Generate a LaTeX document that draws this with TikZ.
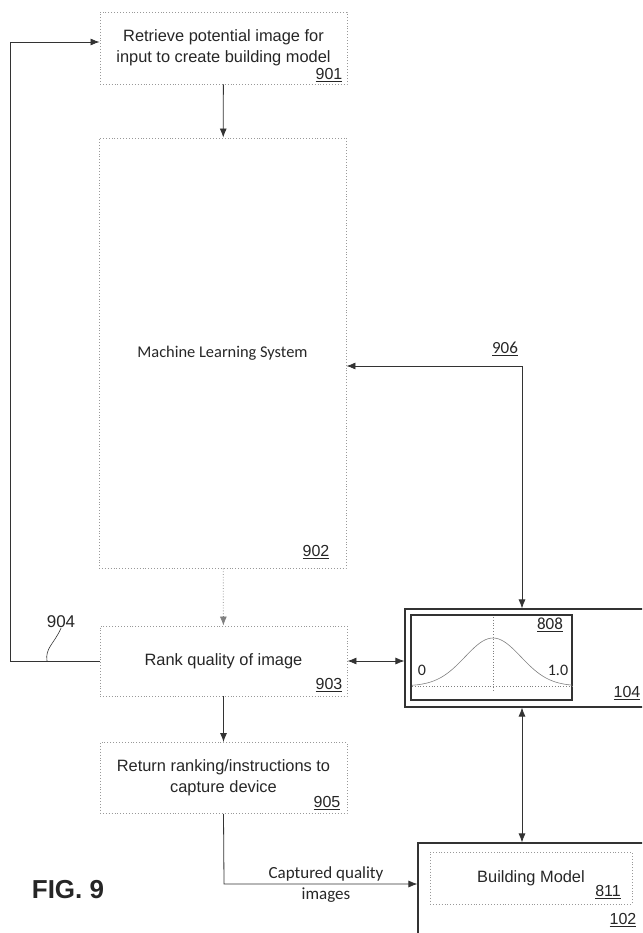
\documentclass[tikz,border=0pt]{standalone}
\usepackage{fontspec}
\setmainfont{Liberation Sans}
\newfontfamily\calfont{Carlito}
\usetikzlibrary{arrows.meta}
\tikzset{
  flowbox/.style={draw=gray!80, dotted, line width=0.9pt, minimum width=247pt, align=center, inner sep=0pt, text=black!85,
    font=\fontsize{16.4}{21}\selectfont},
  solidbox/.style={draw=black!80, line width=1.1pt, inner sep=0pt},
  num/.style={inner sep=0pt, text=black!85, font=\fontsize{16}{18}\selectfont},
  link/.style={draw=black!80, line width=0.8pt, -{Latex[length=9pt,width=7pt]}},
  dbl/.style={draw=black!80, line width=0.8pt, {Latex[length=9pt,width=7pt]}-{Latex[length=9pt,width=7pt]}},
}
\begin{document}
\begin{tikzpicture}[x=1pt,y=-1pt]
  \clip (0,0) rectangle (642,933);
  % Left column
  \node[flowbox, minimum height=72pt] (retrieve) at (223.5,48) {Retrieve potential image for\\input to create building model};
  \node[flowbox, minimum height=430pt, font=\calfont\fontsize{16.4}{20}\selectfont] (ml) at (222.5,353) {Machine Learning System};
  \node[flowbox, minimum height=70pt] (rank) at (223.5,661) {Rank quality of image};
  \node[flowbox, minimum height=71pt] (report) at (223.5,778) {Return ranking/instructions to\\capture device};
  \node[num] (n901) at (329,75) {\underline{901}};
  \node[num] (n902) at (316,552) {\underline{902}};
  \node[num] (n903) at (329,685) {\underline{903}};
  \node[num] (n905) at (327,803) {\underline{905}};
  % Right column
  \node[solidbox, minimum width=255pt, minimum height=98pt] (device) at (532.5,658) {};
  \node[solidbox, minimum width=161pt, minimum height=85pt] (chart) at (491.5,657.5) {};
  \node[num] (n104) at (627,693) {\underline{104}};
  \node[num, font=\calfont\fontsize{17}{18}\selectfont] (n808) at (550,625) {\underline{808}};
  \node[num, font=\calfont\fontsize{16}{18}\selectfont] (low) at (422,670) {0};
  \node[num, font=\calfont\fontsize{16}{18}\selectfont] (high) at (558,670) {1.0};
  \draw[gray, dotted, line width=0.8pt] (412,686) -- (572,686);
  \draw[gray, dotted, line width=0.8pt] (493,617) -- (493,692);
  \draw[gray, line width=0.6pt] plot[domain=412:572, samples=60] (\x, {686-48*exp(-0.5*((\x-493)/28)*((\x-493)/28))});
  \node[solidbox, minimum width=282pt, minimum height=117pt] (server) at (559,901.5) {};
  \node[flowbox, minimum width=202pt, minimum height=52pt] (model) at (531,878) {Building Model};
  \node[num] (n811) at (608,892) {\underline{811}};
  \node[num] (n102) at (623,920) {\underline{102}};
  \node[num, font=\calfont\fontsize{17}{18}\selectfont] (n906) at (505,349) {\underline{906}};
  \node[num, font=\bfseries\fontsize{26}{30}\selectfont] (fig) at (68,890) {FIG. 9};
  % Connectors
  \coordinate (loop) at (10,42);
  \coordinate (bend) at (522,366);
  \coordinate (cap) at (224,884);
  \draw[link] (retrieve) -- (ml);
  \draw[link, draw=gray, dotted] (ml) -- (rank);
  \draw[link] (rank) -- (report);
  \draw[link] (rank.west) -| (loop) -- (loop -| retrieve.west);
  \node[num, font=\fontsize{17}{18}\selectfont] (n904) at (61,622) {904};
  \draw[black!80, line width=0.6pt] (47,661) .. controls (45,648) and (54,644) .. (n904.south);
  \draw[dbl] (rank.east) -- (rank.east -| device.west);
  \draw[dbl] (bend -| ml.east) -- (bend) -- (bend |- device.north);
  \draw[dbl] (bend |- device.south) -- (bend |- server.north);
  \draw[link] (report.south) -- (cap) -- (cap -| server.west);
  \node[num, align=center, font=\calfont\fontsize{17}{21}\selectfont] (captured) at (326,885) {Captured quality\\images};
\end{tikzpicture}
\end{document}
